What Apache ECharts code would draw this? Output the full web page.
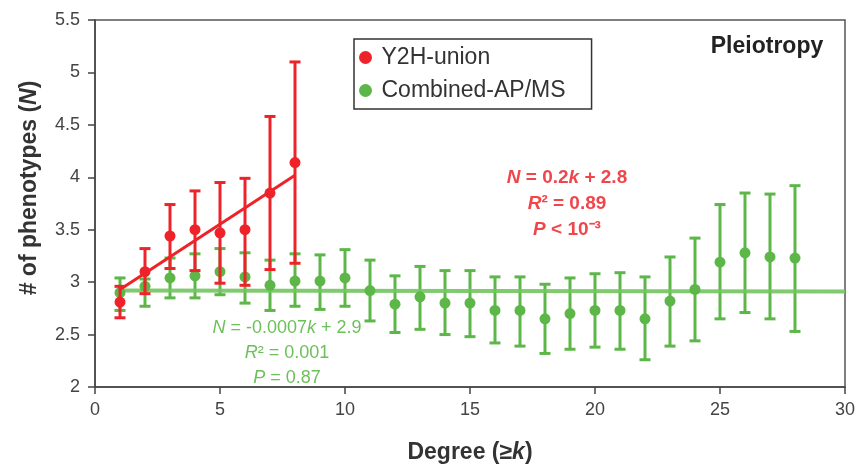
<!DOCTYPE html>
<html>
<head>
<meta charset="utf-8">
<script src="https://cdn.jsdelivr.net/npm/echarts@6/dist/echarts.min.js"></script>
<style>
  html, body { margin: 0; padding: 0; background: #fff; }
  #chart { width: 868px; height: 465px; }
</style>
</head>
<body>
<div id="chart"></div>
<script>
// Pleiotropy vs degree – mean # of phenotypes with error bars

const FONT = "'Liberation Sans', Arial, sans-serif";

const RED = "#ee2329";
const GREEN = "#5cb748";

// Y2H-union (k = 1..8)
const redDegree = [1, 2, 3, 4, 5, 6, 7, 8];
const redMean = [2.81, 3.10, 3.44, 3.50, 3.47, 3.50, 3.85, 4.14];
const redLow = [2.66, 2.89, 3.13, 3.11, 2.99, 2.97, 3.12, 3.18];
const redHigh = [2.96, 3.32, 3.74, 3.87, 3.95, 3.99, 4.58, 5.10];
const redFit = [[1, 2.93], [8, 4.02]];

// Combined-AP/MS (k = 1..28)
const greenDegree = [1, 2, 3, 4, 5, 6, 7, 8, 9, 10, 11, 12, 13, 14,
  15, 16, 17, 18, 19, 20, 21, 22, 23, 24, 25, 26, 27, 28];
const greenMean = [2.90, 2.96, 3.04, 3.06, 3.10, 3.05, 2.97, 3.01, 3.01, 3.04,
  2.92, 2.79, 2.86, 2.80, 2.80, 2.73, 2.73, 2.65, 2.70, 2.73,
  2.73, 2.65, 2.82, 2.93, 3.19, 3.28, 3.24, 3.23];
const greenLow = [2.73, 2.77, 2.85, 2.85, 2.88, 2.80, 2.73, 2.77, 2.74, 2.77,
  2.63, 2.52, 2.55, 2.50, 2.48, 2.42, 2.39, 2.32, 2.36, 2.38,
  2.36, 2.26, 2.39, 2.44, 2.65, 2.71, 2.65, 2.53];
const greenHigh = [3.04, 3.03, 3.23, 3.27, 3.32, 3.28, 3.21, 3.27, 3.26, 3.31,
  3.21, 3.06, 3.15, 3.11, 3.11, 3.05, 3.05, 2.98, 3.04, 3.08,
  3.09, 3.05, 3.24, 3.42, 3.74, 3.85, 3.84, 3.92];
const greenFit = [[1, 2.92], [30, 2.91]];

const seriesNames = ["Y2H-union", "Combined-AP/MS"];

function points(ks, vals) {
  return ks.map((k, i) => [k, vals[i]]);
}

function bars(ks, lo, hi) {
  return ks.map((k, i) => [k, lo[i], hi[i]]);
}

// error bar: vertical line + caps, drawn through the axes
function errorBar(color) {
  return function (params, api) {
    const k = api.value(0);
    const top = api.coord([k, api.value(2)]);
    const bot = api.coord([k, api.value(1)]);
    const hw = 5.5;
    const style = { stroke: color, lineWidth: 3 };
    return {
      type: "group",
      children: [
        { type: "line", shape: { x1: top[0], y1: top[1], x2: bot[0], y2: bot[1] }, style },
        { type: "line", shape: { x1: top[0] - hw, y1: top[1], x2: top[0] + hw, y2: top[1] }, style },
        { type: "line", shape: { x1: bot[0] - hw, y1: bot[1], x2: bot[0] + hw, y2: bot[1] }, style }
      ]
    };
  };
}

const chart = echarts.init(document.getElementById("chart"));

chart.setOption({
  animation: false,
  grid: {
    left: 95, right: 23, top: 20, bottom: 78,
    outerBoundsMode: "none",
    show: true, borderColor: "#555", borderWidth: 1.5
  },
  legend: {
    data: seriesNames,
    orient: "vertical",
    left: 354,
    top: 39,
    padding: [7, 26, 7, 5],
    itemGap: 10,
    itemWidth: 22,
    itemHeight: 13,
    borderColor: "#333",
    borderWidth: 1.5,
    textStyle: { fontFamily: FONT, fontSize: 23, color: "#333" }
  },
  xAxis: {
    type: "value",
    min: 0, max: 30, interval: 5,
    name: "Degree (≥{i|k})",
    nameLocation: "middle",
    nameGap: 54,
    nameTextStyle: {
      fontFamily: FONT, fontSize: 23, fontWeight: "bold", color: "#333",
      rich: { i: { fontFamily: FONT, fontSize: 23, fontWeight: "bold", fontStyle: "italic", color: "#333" } }
    },
    axisLine: { lineStyle: { color: "#444", width: 1.5 } },
    axisTick: { length: 7, lineStyle: { color: "#444", width: 1.5 } },
    axisLabel: { margin: 14, fontFamily: FONT, fontSize: 18, color: "#444" },
    splitLine: { show: false }
  },
  yAxis: {
    type: "value",
    min: 2, max: 5.5, interval: 0.5,
    axisLine: { show: true, lineStyle: { color: "#444", width: 1.5 } },
    axisTick: { show: true, length: 7, lineStyle: { color: "#444", width: 1.5 } },
    axisLabel: { margin: 15, fontFamily: FONT, fontSize: 18, color: "#444" },
    splitLine: { show: false }
  },
  graphic: [
    {
      type: "text", x: 30, y: 188, rotation: Math.PI / 2,
      style: {
        text: "# of phenotypes ({i|N})",
        align: "center", verticalAlign: "middle",
        font: "bold 23px " + FONT, fill: "#333",
        rich: { i: { fontFamily: FONT, fontSize: 23, fontWeight: "bold", fontStyle: "italic", fill: "#333" } }
      }
    },
    {
      type: "text", x: 767, y: 47,
      style: {
        text: "Pleiotropy", align: "center", verticalAlign: "middle",
        font: "bold 23px " + FONT, fill: "#222"
      }
    },
    {
      type: "text", x: 567, y: 204,
      style: {
        text: "{i|N} = 0.2{i|k} + 2.8\n{i|R}² = 0.89\n{i|P} < 10⁻³",
        align: "center", verticalAlign: "middle",
        font: "bold 19px " + FONT, fill: "#f0464b", lineHeight: 26,
        rich: { i: { fontFamily: FONT, fontSize: 19, fontWeight: "bold", fontStyle: "italic", fill: "#f0464b", lineHeight: 26 } }
      }
    },
    {
      type: "text", x: 287, y: 353,
      style: {
        text: "{i|N} = -0.0007{i|k} + 2.9\n{i|R}² = 0.001\n{i|P} = 0.87",
        align: "center", verticalAlign: "middle",
        font: "18px " + FONT, fill: "#6dbf59", lineHeight: 25,
        rich: { i: { fontFamily: FONT, fontSize: 18, fontStyle: "italic", fill: "#6dbf59", lineHeight: 25 } }
      }
    }
  ],
  series: [
    {
      name: "green-bars", type: "custom",
      renderItem: errorBar(GREEN),
      encode: { x: 0, y: [1, 2] },
      data: bars(greenDegree, greenLow, greenHigh),
      z: 2
    },
    {
      name: "green-fit", type: "line",
      data: greenFit, symbol: "none",
      lineStyle: { color: "#72c460", width: 4, opacity: 0.9 },
      z: 3
    },
    {
      name: seriesNames[1], type: "scatter",
      data: points(greenDegree, greenMean),
      symbol: "circle", symbolSize: 11,
      itemStyle: { color: GREEN, opacity: 1 },
      z: 4
    },
    {
      name: "red-bars", type: "custom",
      renderItem: errorBar(RED),
      encode: { x: 0, y: [1, 2] },
      data: bars(redDegree, redLow, redHigh),
      z: 5
    },
    {
      name: "red-fit", type: "line",
      data: redFit, symbol: "none",
      lineStyle: { color: RED, width: 3 },
      z: 6
    },
    {
      name: seriesNames[0], type: "scatter",
      data: points(redDegree, redMean),
      symbol: "circle", symbolSize: 11,
      itemStyle: { color: RED, opacity: 1 },
      z: 7
    }
  ]
});
</script>
</body>
</html>
